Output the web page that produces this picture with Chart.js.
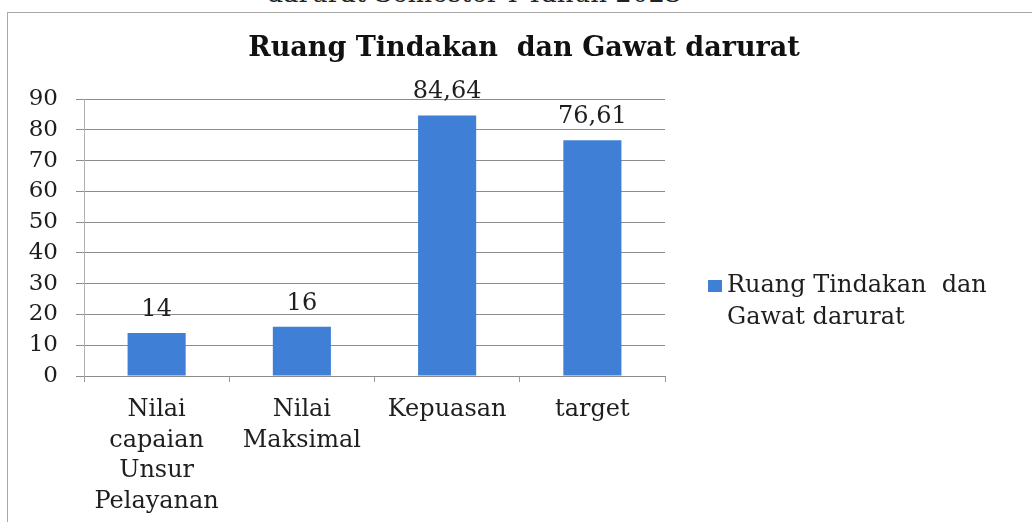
<!DOCTYPE html>
<html>
<head>
<meta charset="utf-8">
<script src="https://cdn.jsdelivr.net/npm/chart.js@4.4.0/dist/chart.umd.min.js"></script>
<style>
  html, body { margin: 0; padding: 0; background: #fff; width: 1032px; height: 522px; overflow: hidden; }
  #head { position: absolute; left: 0; width: 948px; top: -22px; text-align: center;
          font: 26px "DejaVu Serif", serif; color: #222; white-space: nowrap; }
  #box { position: absolute; left: 7px; top: 12px; width: 1100px; height: 600px;
         border: 1px solid #a8a8a8; box-sizing: border-box; }
  #wrap { position: absolute; left: 0; top: 0; width: 1032px; height: 522px; }
</style>
</head>
<body>
<div id="head">darurat Semester I Tahun 2023</div>
<div id="box"></div>
<div id="wrap"><canvas id="c" width="1032" height="522"></canvas></div>
<script>
const chartTitle = "Ruang Tindakan  dan Gawat darurat";
const seriesName = "Ruang Tindakan  dan Gawat darurat";
const legendLines = ["Ruang Tindakan  dan", "Gawat darurat"];
const categories = [["Nilai", "capaian", "Unsur", "Pelayanan"], ["Nilai", "Maksimal"], "Kepuasan", "target"];
const values = [14, 16, 84.64, 76.61];
const yTicks = { min: 0, max: 90, step: 10 };

const FONT = '"DejaVu Serif", serif';
const barColor = '#3f80d6';
const textColor = '#1e1e1e';

const overlay = {
  id: 'overlay',
  afterDatasetsDraw(chart) {
    const ctx = chart.ctx;
    ctx.save();
    // value labels
    ctx.fillStyle = textColor;
    ctx.font = '24px ' + FONT;
    ctx.textAlign = 'center';
    ctx.textBaseline = 'alphabetic';
    const meta = chart.getDatasetMeta(0);
    meta.data.forEach((bar, i) => {
      const v = values[i];
      const txt = Number.isInteger(v) ? String(v) : v.toFixed(2).replace('.', ',');
      ctx.fillText(txt, bar.x, bar.y - 17);
    });
    // title
    ctx.fillStyle = '#111';
    ctx.font = 'bold 27px ' + FONT;
    ctx.textBaseline = 'middle';
    ctx.fillText(chartTitle, 524, 49);
    // legend
    ctx.fillStyle = barColor;
    ctx.fillRect(708, 280, 14, 12);
    ctx.fillStyle = textColor;
    ctx.font = '24px ' + FONT;
    ctx.textAlign = 'left';
    ctx.fillText(legendLines[0], 727, 286);
    ctx.fillText(legendLines[1], 727, 318);
    ctx.restore();
  }
};

new Chart(document.getElementById('c'), {
  type: 'bar',
  data: {
    labels: categories,
    datasets: [{
      label: seriesName,
      data: values,
      backgroundColor: barColor,
      barPercentage: 0.4,
      categoryPercentage: 1.0
    }]
  },
  options: {
    responsive: false,
    animation: false,
    layout: { padding: { left: 0, right: 367, top: 99, bottom: 0 } },
    plugins: { legend: { display: false }, title: { display: false }, tooltip: { enabled: false } },
    scales: {
      x: {
        afterFit(s) { s.height = 146; },
        grid: { display: true, drawOnChartArea: false, drawTicks: true, tickLength: 6, color: '#9a9a9a', offset: true },
        border: { display: true, color: '#8f8a8c' },
        ticks: { color: textColor, font: { family: FONT, size: 24, lineHeight: 1.27 }, padding: 13, maxRotation: 0, autoSkip: false }
      },
      y: {
        min: yTicks.min, max: yTicks.max,
        afterFit(s) { s.width = 84; },
        grid: { color: '#8f8a8c', tickLength: 8, lineWidth: 1 },
        border: { display: true, color: '#b0b0b0' },
        ticks: { stepSize: yTicks.step, color: textColor, font: { family: FONT, size: 23 }, padding: 18 }
      }
    }
  },
  plugins: [overlay]
});
</script>
</body>
</html>
